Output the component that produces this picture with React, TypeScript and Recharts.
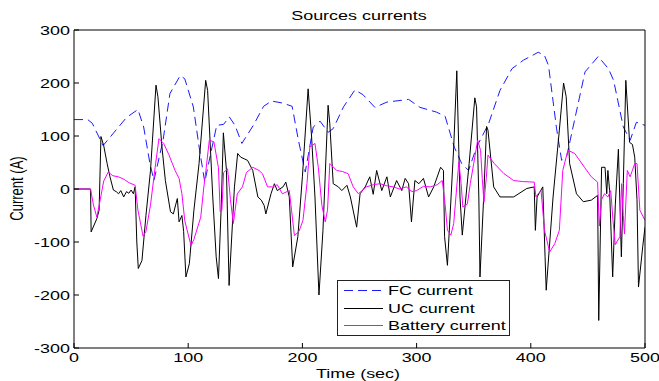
import React from "react";
import { LineChart, Line, XAxis, YAxis, Legend } from "recharts";

const xTicks = [0, 100, 200, 300, 400, 500];
const yTicks = [-300, -200, -100, 0, 100, 200, 300];
const seriesNames = ["FC current", "UC current", "Battery current"];

// [time (sec), current (A)]
const fcCurrent: [number, number][] = [
  [0, 131], [12, 131], [16, 124], [25.5, 82], [34, 104], [46, 135], [56, 150], [61, 117],
  [66.5, 48], [70, 16], [78, 92], [84, 180], [93, 214], [97, 208], [104.5, 155], [110, 73],
  [114.5, 13], [119, 60], [125, 120], [131, 122], [136, 136], [141, 120], [147, 86], [157, 120],
  [166, 156], [173, 166], [183, 162], [191, 156], [196.5, 92], [202.5, 32], [209.5, 117], [215.5, 128],
  [222.5, 107], [227, 114], [236, 155], [246, 187], [253, 178], [263.5, 154], [274, 164], [293, 169],
  [303, 154], [317.5, 145], [325, 137], [333, 79], [339.5, 48], [345.5, 35], [352.5, 79], [363, 123],
  [373, 186], [383.5, 227], [393.5, 243], [406.5, 258], [412, 252], [415.5, 233], [422.5, 115], [427, 54],
  [431.5, 62], [437, 117], [447.5, 221], [459, 250], [468, 227], [472.5, 205], [481, 117], [487, 92],
  [492.5, 126], [500, 120],
];

const ucCurrent: [number, number][] = [
  [0, 0], [14.5, 0], [15, -81], [20, -56], [22, -40], [23.6, 99], [26, 82], [29, 48],
  [31.5, 23], [34.5, -2], [37, -5], [39, -9], [41, -3], [43.5, -15], [46, -5], [48, -8],
  [50, -2], [52, -9], [53.5, 4], [55, -100], [56.3, -150], [59.5, -135], [63, -50], [67, 35],
  [71.8, 196], [73.5, 174], [77, 80], [80, 16], [84.5, -43], [87, -47], [89, -30], [90.5, -18],
  [92, -62], [94.5, -50], [96, -80], [98, -166], [101, -141], [105, -40], [109.5, 48], [115.3, 205],
  [117, 186], [121.5, -15], [124.5, -128], [126.5, -169], [129, -28], [130.8, 106], [133.5, 35], [135.8, -182],
  [140.5, 4], [143.3, 67], [146, 60], [149, 57], [152, 54], [156.5, 35], [161, -15], [164, -21],
  [166.5, -31], [168, -47], [172.5, -9], [175.5, 10], [178, -3], [183, 4], [185.5, 13], [188.5, -15],
  [191.5, -147], [196, -90], [200, 23], [205, 189], [208, 100], [211, -15], [214.5, -200], [218, -78],
  [222.5, 158], [224, 123], [227, 10], [231.5, 4], [234.5, -3], [239, 7], [242, -15], [247.5, -72],
  [250.5, -9], [255, 4], [259, 23], [262, -10], [265, 35], [269.5, -3], [274, 23], [277, -15],
  [282.5, 16], [287, -3], [290, 20], [293, 10], [295.5, -62], [298.5, 16], [302, 10], [306, 20],
  [310.5, -15], [315, 4], [321, 41], [323.5, 35], [324.5, -90], [327, -144], [332.5, 79], [335.2, 223],
  [338, -15], [340, -87], [346, 48], [351, 172], [352.5, 155], [354.5, -15], [355.5, -166], [359, -3],
  [361.3, 118], [362.5, 111], [367.5, 4], [373, -15], [385, -15], [396.5, 1], [403, 4], [404, -78],
  [405.5, -15], [410.5, 4], [412.5, -128], [413.5, -191], [419.5, -15], [425, 111], [428.7, 200], [431, 174],
  [434, 48], [440, -9], [446, -24], [453, -21], [458.5, -12], [459.5, -248], [462, 41], [465, 41],
  [466.5, -9], [467.5, 35], [469, -3], [471.7, -166], [474, -30], [476.7, 75], [479.3, -128], [481, 10],
  [483.2, 205], [486.5, 88], [489, 84], [491, 60], [493, -20], [494.3, -185], [498, -109], [500, -72],
];

const batteryCurrent: [number, number][] = [
  [0, 0], [14.5, 0], [17, -30], [20, -53], [23, -20], [26, 15], [30, 32], [34, 25],
  [39, 23], [44, 18], [48, 12], [53.5, 7], [56, -40], [60.5, -89], [63, -80], [67, -30],
  [71, 40], [74.4, 95], [78.5, 86], [83, 65], [88.5, 35], [92, 20], [94.5, -9], [97, -60],
  [102.5, -107], [105, -95], [111, -53], [113.5, 0], [115.5, 35], [118.5, 92], [122.5, 89], [126.5, 40],
  [128, -43], [129.5, -40], [131, 31], [134.5, 38], [137, -20], [139.5, -65], [143, -9], [147.5, 4],
  [151, 31], [156.5, 41], [162, 35], [165, 29], [169.5, 4], [174, 4], [178, 8], [182.5, -9],
  [188.5, -3], [190.5, -40], [193, -88], [197, -80], [200.5, -59], [204, 10], [206.5, 79], [211, 86],
  [214, 40], [217, -30], [220, -62], [222, -40], [224, 48], [230, 35], [235, 33], [240, 29],
  [244.5, 4], [249, -9], [256, 4], [262, 8], [268, 10], [274, 6], [279.5, 4], [285, 0],
  [291, 4], [296, -5], [300, -3], [306, 5], [312, 4], [318, 8], [322.5, 16], [325, -30],
  [327, -78], [330, -87], [332.5, -65], [335, 0], [337, 51], [339, 10], [340.5, -34], [344.5, -28],
  [347, 10], [350, 48], [353.5, 92], [356, 73], [357.5, 20], [359, -25], [361, 20], [362.5, 64],
  [368, 48], [376.5, 29], [385, 16], [393, 14], [403, 13], [404.5, -15], [406, -10], [409, -3],
  [412, -78], [416.5, -119], [421, -103], [425, -78], [428, 35], [432.5, 73], [438.5, 67], [447, 41],
  [453, 23], [458.5, 13], [460, -70], [462, -20], [464.5, -9], [467.5, -15], [470, -3], [472, -60],
  [474, -105], [478, -90], [479.5, 10], [481, -50], [482, -85], [484.5, 35], [487, 23], [491, 48],
  [493, 48], [495.5, -40], [500, -59],
];

const toRows = (pts: [number, number][]) => pts.map(([t, i]) => ({ t, i }));

const FONT = "'Liberation Sans', Arial, Helvetica, sans-serif";
const STRETCH = 1.38;

function XTick(props: any) {
  const { x, y, payload } = props;
  return (
    <text
      transform={`translate(${x},${y}) scale(${STRETCH},1)`}
      textAnchor="middle"
      dy="0.71em"
      fontSize={13}
      fontFamily={FONT}
      fill="#000"
    >
      {payload.value}
    </text>
  );
}

function YTick(props: any) {
  const { x, y, payload } = props;
  return (
    <text
      transform={`translate(${x},${y}) scale(${STRETCH},1)`}
      textAnchor="end"
      dy="0.355em"
      fontSize={13}
      fontFamily={FONT}
      fill="#000"
    >
      {payload.value}
    </text>
  );
}

function LegendBox(props: any) {
  const items = [...(props.payload || [])]
    .filter((e: any) => seriesNames.includes(e.value))
    .sort((a: any, b: any) => seriesNames.indexOf(a.value) - seriesNames.indexOf(b.value));
  return (
    <div
      style={{
        width: 173,
        height: 56,
        border: "1px solid #222",
        background: "#fff",
        boxSizing: "border-box",
        position: "relative",
      }}
    >
      {items.map((entry: any, k: number) => (
        <div
          key={entry.value}
          style={{ position: "absolute", left: 0, top: 1 + k * 17.5, height: 17, width: 171 }}
        >
          <svg width={50} height={17} style={{ position: "absolute", left: 0, top: 0 }}>
            <line
              x1={6}
              x2={45}
              y1={8.5}
              y2={8.5}
              stroke={entry.color}
              strokeDasharray={entry.payload?.strokeDasharray}
            />
          </svg>
          <span
            style={{
              position: "absolute",
              left: 50,
              top: 1,
              fontSize: 13,
              lineHeight: "15px",
              fontFamily: FONT,
              whiteSpace: "nowrap",
              transform: `scaleX(${STRETCH})`,
              transformOrigin: "left center",
              color: "#000",
            }}
          >
            {entry.value}
          </span>
        </div>
      ))}
    </div>
  );
}

const textBase: React.CSSProperties = {
  position: "absolute",
  fontFamily: FONT,
  fontSize: 13,
  lineHeight: "13px",
  color: "#000",
  textAlign: "center",
  whiteSpace: "nowrap",
};

export default function App() {
  return (
    <div style={{ position: "absolute", left: 0, top: 0, width: 659, height: 381, background: "#fff" }}>
      <LineChart width={659} height={381} margin={{ top: 30, right: 14, bottom: 0, left: 0 }}>
        <XAxis
          dataKey="t"
          type="number"
          domain={[0, 500]}
          ticks={xTicks}
          allowDataOverflow
          height={33}
          stroke="#000"
          tickSize={-5}
          tickMargin={10}
          tick={<XTick />}
        />
        <YAxis
          type="number"
          domain={[-300, 300]}
          ticks={yTicks}
          allowDataOverflow
          width={74}
          stroke="#000"
          tickSize={-5}
          tickMargin={9}
          tick={<YTick />}
        />
        <Legend
          layout="vertical"
          align="center"
          verticalAlign="middle"
          content={<LegendBox />}
          wrapperStyle={{ left: 337, top: 280, width: 173, height: 56 }}
        />
        <Line
          data={toRows(fcCurrent)}
          dataKey="i"
          name="FC current"
          type="linear"
          stroke="#1a1aff"
          strokeWidth={1}
          strokeDasharray="9 5"
          dot={false}
          isAnimationActive={false}
        />
        <Line
          data={toRows(ucCurrent)}
          dataKey="i"
          name="UC current"
          type="linear"
          stroke="#000"
          strokeWidth={1}
          dot={false}
          isAnimationActive={false}
        />
        <Line
          data={toRows(batteryCurrent)}
          dataKey="i"
          name="Battery current"
          type="linear"
          stroke="#ff00ff"
          strokeWidth={1}
          dot={false}
          isAnimationActive={false}
        />
      </LineChart>
      {/* top and right edges of the axes box */}
      <svg
        width={659}
        height={381}
        style={{ position: "absolute", left: 0, top: 0, pointerEvents: "none", overflow: "visible" }}
      >
        <polyline points="74,30 645,30 645,348" fill="none" stroke="#000" strokeWidth={1} />
      </svg>
      <div style={{ ...textBase, left: 208.5, top: 9, width: 300, transform: `scaleX(${STRETCH})` }}>
        Sources currents
      </div>
      <div style={{ ...textBase, left: 207.5, top: 367, width: 300, transform: `scaleX(${STRETCH})` }}>
        Time (sec)
      </div>
      <div
        style={{
          ...textBase,
          left: 16.7 - 60,
          top: 188.5 - 6.5,
          width: 120,
          transform: `scaleX(${STRETCH}) rotate(-90deg)`,
        }}
      >
        Current (A)
      </div>
    </div>
  );
}
